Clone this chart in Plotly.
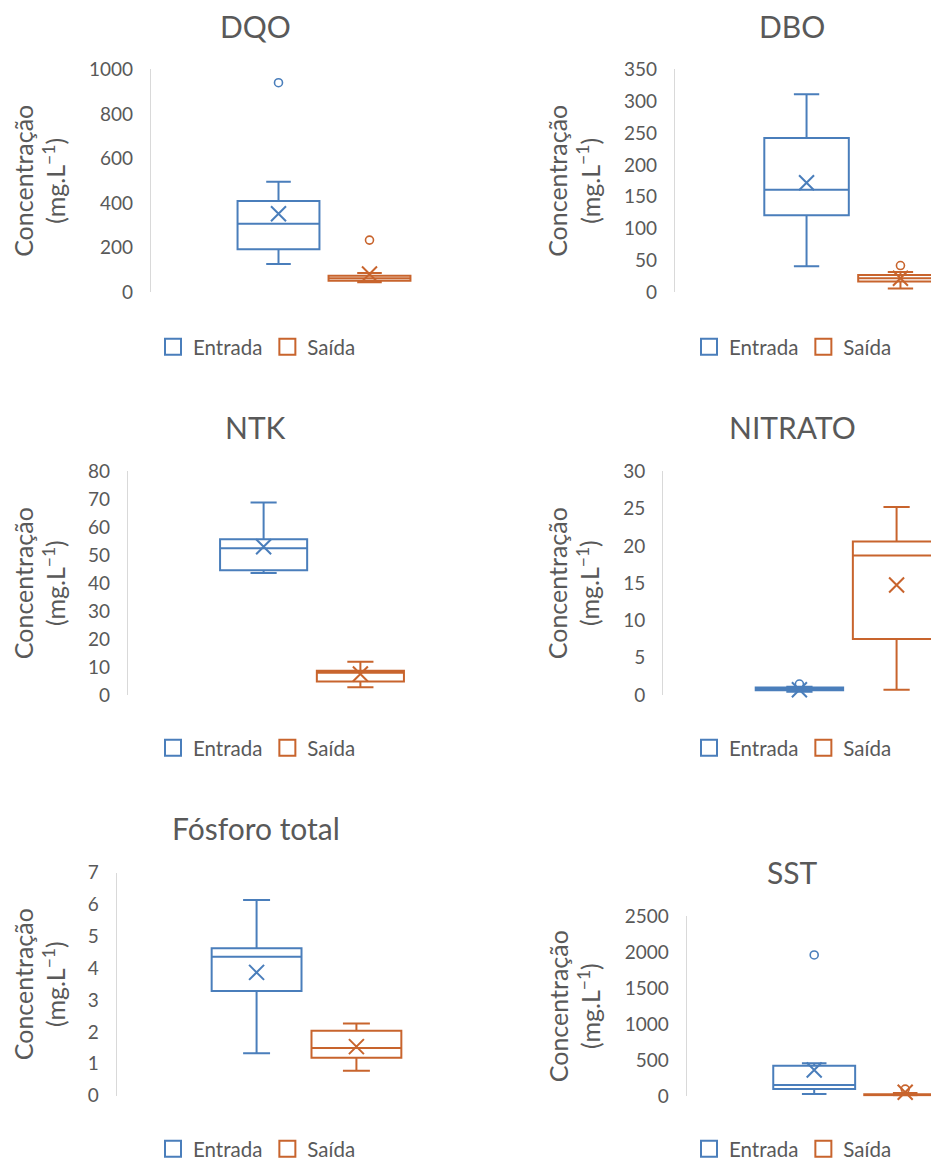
import plotly.graph_objects as go

VW, VH = 939, 1161          # browser viewport
OFF = 8                     # default page body margin of the rendered html
W, H = VW - OFF, VH - OFF   # figure size so the page does not overflow the viewport

# ---------------- data ----------------
params = ["DQO", "DBO", "NTK", "NITRATO", "Fósforo total", "SST"]
series = ["Entrada", "Saída"]

entrada_lower = [127, 41, 43.6, 0.45, 1.33, 32]
entrada_q1 = [193, 121, 44.6, 0.65, 3.29, 101]
entrada_median = [307, 161, 52.5, 0.85, 4.36, 157]
entrada_q3 = [409, 242, 55.7, 1.0, 4.63, 424]
entrada_upper = [496, 311, 68.8, 1.1, 6.14, 458]
entrada_mean = [352, 172, 53.0, 0.7, 3.87, 365]
entrada_outliers = [[940], [], [], [1.47], [], [1960]]

saida_lower = [45, 6, 2.75, 0.7, 0.78, 4]
saida_q1 = [52, 17, 4.8, 7.5, 1.19, 10]
saida_median = [63, 22, 8.0, 18.7, 1.50, 18]
saida_q3 = [74, 27, 8.7, 20.6, 2.04, 28]
saida_upper = [86, 32, 11.9, 25.2, 2.27, 45]
saida_mean = [82, 22, 7.5, 14.75, 1.54, 55]
saida_outliers = [[234], [42], [], [], [], [100]]

y_max = [1000, 350, 80, 30, 7, 2500]
y_dtick = [200, 50, 10, 5, 1, 500]

axis_title = "Concentração<br>(mg.L<sup>−1</sup>)"

# ---------------- styling / layout ----------------
COLORS = {"Entrada": "#4A7EBB", "Saída": "#C8642D"}
TEXT = "#595959"
FONT = "Lato"

# panel geometry in screen pixels
panels = [
    dict(x0=151.0, cw=346.0, yb=292.3, yt=69.3, tx=256, ty=26, lx=153, ly=347),
    dict(x0=675.0, cw=357.0, yb=292.3, yt=69.3, tx=792, ty=26, lx=689, ly=347),
    dict(x0=128.0, cw=368.0, yb=695.0, yt=471.3, tx=256, ty=427, lx=153, ly=748),
    dict(x0=663.3, cw=369.4, yb=695.0, yt=471.3, tx=792, ty=427, lx=689, ly=748),
    dict(x0=116.7, cw=379.6, yb=1095.7, yt=872.7, tx=256, ty=828, lx=153, ly=1149),
    dict(x0=686.7, cw=346.0, yb=1096.3, yt=916.0, tx=792, ty=872, lx=689, ly=1149),
]


def fx(px):
    return (px - OFF) / W


def fy(py):
    return 1 - (py - OFF) / H


stats = {
    "Entrada": (entrada_lower, entrada_q1, entrada_median, entrada_q3, entrada_upper, entrada_mean, entrada_outliers),
    "Saída": (saida_lower, saida_q1, saida_median, saida_q3, saida_upper, saida_mean, saida_outliers),
}

fig = go.Figure()
annotations = []
layout_axes = {}

for i, p in enumerate(params):
    n = i + 1
    xa = "x" if n == 1 else f"x{n}"
    ya = "y" if n == 1 else f"y{n}"
    leg = "legend" if n == 1 else f"legend{n}"
    g = panels[i]

    for s in series:
        lo, q1, med, q3, up, mn, outl = stats[s]
        col = COLORS[s]
        fig.add_trace(go.Box(
            x=[p], q1=[q1[i]], median=[med[i]], q3=[q3[i]],
            lowerfence=[lo[i]], upperfence=[up[i]],
            name=s, offsetgroup=s, alignmentgroup="g",
            line=dict(color=col, width=2), fillcolor="rgba(255,255,255,0)",
            whiskerwidth=0.3, boxpoints=False, showlegend=False,
            xaxis=xa, yaxis=ya, hoverinfo="skip",
        ))
    for s in series:
        lo, q1, med, q3, up, mn, outl = stats[s]
        col = COLORS[s]
        # mean marker (X)
        fig.add_trace(go.Scatter(
            x=[p], y=[mn[i]], mode="markers", name=s, offsetgroup=s, alignmentgroup="g",
            marker=dict(symbol="x-thin-open", size=15, color=col, line=dict(color=col, width=2)),
            showlegend=False, cliponaxis=False, xaxis=xa, yaxis=ya, hoverinfo="skip",
        ))
        # outliers
        fig.add_trace(go.Scatter(
            x=[p] * len(outl[i]), y=outl[i], mode="markers", name=s, offsetgroup=s, alignmentgroup="g",
            marker=dict(symbol="circle-open", size=8, color=col, line=dict(color=col, width=1.6)),
            showlegend=False, cliponaxis=False, xaxis=xa, yaxis=ya, hoverinfo="skip",
        ))
        # legend entry
        fig.add_trace(go.Scatter(
            x=[p], y=[None], mode="markers", name=s, offsetgroup=s, alignmentgroup="g",
            marker=dict(symbol="square-open", size=16, color=col, line=dict(color=col, width=2)),
            showlegend=True, legend=leg, xaxis=xa, yaxis=ya, hoverinfo="skip",
        ))

    x_end = min(g["x0"] + g["cw"], VW)
    layout_axes["xaxis" if n == 1 else f"xaxis{n}"] = dict(
        domain=[fx(g["x0"]), min(fx(x_end), 1.0)], anchor=ya, type="category",
        range=[-0.5, -0.5 + (x_end - g["x0"]) / g["cw"]], visible=False, fixedrange=True,
    )
    layout_axes["yaxis" if n == 1 else f"yaxis{n}"] = dict(
        domain=[fy(g["yb"]), fy(g["yt"])], anchor=xa,
        range=[0, y_max[i]], dtick=y_dtick[i], tick0=0,
        showline=True, linecolor="#D9D9D9", linewidth=1.3, showgrid=False, zeroline=False,
        ticks="", ticklabelstandoff=13,
        tickfont=dict(family=FONT, size=19, color=TEXT), fixedrange=True,
        title=dict(text=axis_title, standoff=16, font=dict(family=FONT, size=25, color=TEXT)),
    )
    layout_axes[leg] = dict(
        x=fx(g["lx"]), y=fy(g["ly"]), xref="container", yref="container",
        xanchor="left", yanchor="middle",
        orientation="h", bgcolor="rgba(0,0,0,0)",
        font=dict(family=FONT, size=20.5, color=TEXT),
    )
    annotations.append(dict(
        text=p, x=fx(g["tx"]), y=fy(g["ty"]), xref="paper", yref="paper",
        xanchor="center", yanchor="middle", showarrow=False,
        font=dict(family=FONT, size=30, color=TEXT),
    ))

fig.update_layout(
    width=W, height=H, margin=dict(l=0, r=0, t=0, b=0, autoexpand=False),
    paper_bgcolor="white", plot_bgcolor="white",
    boxmode="group", boxgap=0.474, boxgroupgap=0.1,
    scattermode="group", scattergap=0.474,
    annotations=annotations, font=dict(family=FONT, color=TEXT),
    **layout_axes,
)

fig.write_html("out.html")
